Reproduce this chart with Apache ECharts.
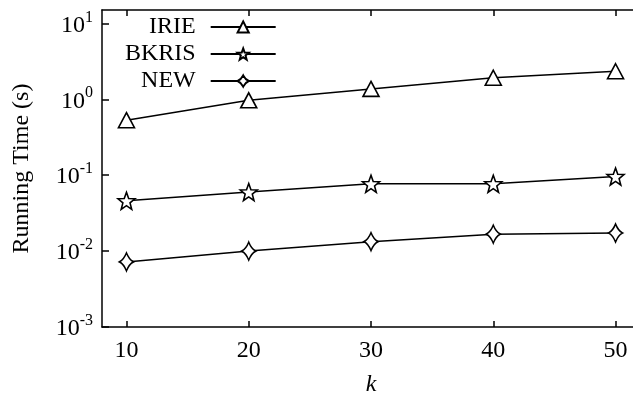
<!DOCTYPE html>
<html>
<head>
<meta charset="utf-8">
<script src="https://cdn.jsdelivr.net/npm/echarts@6/dist/echarts.min.js"></script>
<style>html,body{margin:0;padding:0;background:#fff;overflow:hidden;width:633px;height:400px;}#c{width:680px;height:400px;}</style>
</head>
<body>
<div id="c"></div>
<script>
var kValues = [10, 20, 30, 40, 50];
var irie = [0.53, 0.97, 1.37, 1.92, 2.34];
var bkris = [0.046, 0.06, 0.077, 0.077, 0.096];
var newAlg = [0.0072, 0.0100, 0.0133, 0.0167, 0.0173];
var xTicks = [10, 20, 30, 40, 50];
var yTicks = [0.001, 0.01, 0.1, 1, 10];
var yTickExp = ['-3', '-2', '-1', '0', '1'];

var FONT = '"Liberation Serif", "DejaVu Serif", serif';
var STAR = 'path://M0 -10 L2.47 -3.4 L9.51 -3.09 L3.99 1.3 L5.88 8.09 L0 4.2 L-5.88 8.09 L-3.99 1.3 L-9.51 -3.09 L-2.47 -3.4 Z';
var DIAM = 'path://M0 -10 Q2.6 -2.6 7 0 Q2.6 2.6 0 10 Q-2.6 2.6 -7 0 Q-2.6 -2.6 0 -10 Z';

function pairs(vals) { return kValues.map(function (k, i) { return [k, vals[i]]; }); }

function mk(name, vals, symbol, size) {
  return {
    name: name, type: 'line', data: pairs(vals),
    symbol: symbol, symbolSize: size, showAllSymbol: true,
    lineStyle: { color: '#000', width: 1.5 },
    itemStyle: { color: '#fff', borderColor: '#000', borderWidth: 1.6 },
    emphasis: { disabled: true }, z: 3
  };
}

var chart = echarts.init(document.getElementById('c'), null, { renderer: 'canvas' });
chart.setOption({
  animation: false,
  backgroundColor: '#fff',
  grid: { left: 102, width: 538, top: 10, bottom: 73, show: false, containLabel: false, outerBoundsMode: 'none' },
  legend: {
    orient: 'vertical', left: 120, top: 10, align: 'right', itemGap: 3,
    itemWidth: 65, itemHeight: 14,
    textStyle: { fontFamily: FONT, fontSize: 24, color: '#000', padding: [0, 10, 0, 0] },
    data: ['IRIE', 'BKRIS', 'NEW']
  },
  xAxis: [{
    type: 'value', min: 8, max: 52, position: 'bottom',
    name: 'k', nameLocation: 'middle', nameGap: 46,
    nameTextStyle: { fontFamily: FONT, fontSize: 24, fontStyle: 'italic', color: '#000' },
    axisLine: { show: true, lineStyle: { color: '#000', width: 1.5 } },
    axisTick: { show: true, inside: true, length: 6, lineStyle: { color: '#000', width: 1.5 }, customValues: xTicks },
    axisLabel: { fontFamily: FONT, fontSize: 24, color: '#000', margin: 12, customValues: xTicks },
    splitLine: { show: false }
  }, {
    type: 'value', min: 8, max: 52, position: 'top',
    axisLine: { show: true, lineStyle: { color: '#000', width: 1.5 } },
    axisTick: { show: true, inside: true, length: 6, lineStyle: { color: '#000', width: 1.5 }, customValues: xTicks },
    axisLabel: { show: false },
    splitLine: { show: false }
  }],
  yAxis: [{
    type: 'log', logBase: 10, min: 0.001, max: 15, position: 'left',
    name: 'Running Time (s)', nameLocation: 'middle', nameGap: 68, nameRotate: 90,
    nameTextStyle: { fontFamily: FONT, fontSize: 24, color: '#000' },
    axisLine: { show: true, lineStyle: { color: '#000', width: 1.5 } },
    axisTick: { show: true, inside: true, length: 7, lineStyle: { color: '#000', width: 1.5 }, customValues: yTicks },
    axisLabel: {
      margin: 9, customValues: yTicks,
      formatter: function (v) {
        var e = Math.round(Math.log(v) / Math.LN10);
        var idx = yTicks.indexOf(Math.pow(10, e));
        var s = idx >= 0 ? yTickExp[idx] : String(e);
        return '{b|10}{s|' + s + '}';
      },
      rich: {
        b: { fontFamily: FONT, fontSize: 24, color: '#000', verticalAlign: 'bottom', lineHeight: 28 },
        s: { fontFamily: FONT, fontSize: 16, color: '#000', verticalAlign: 'top', lineHeight: 28, padding: [0, 0, 12, 0] }
      }
    },
    splitLine: { show: false }
  }],
  series: [
    mk('IRIE', irie, 'triangle', [16, 15]),
    mk('BKRIS', bkris, STAR, 17),
    mk('NEW', newAlg, DIAM, [14, 18])
  ]
});
</script>
</body>
</html>
